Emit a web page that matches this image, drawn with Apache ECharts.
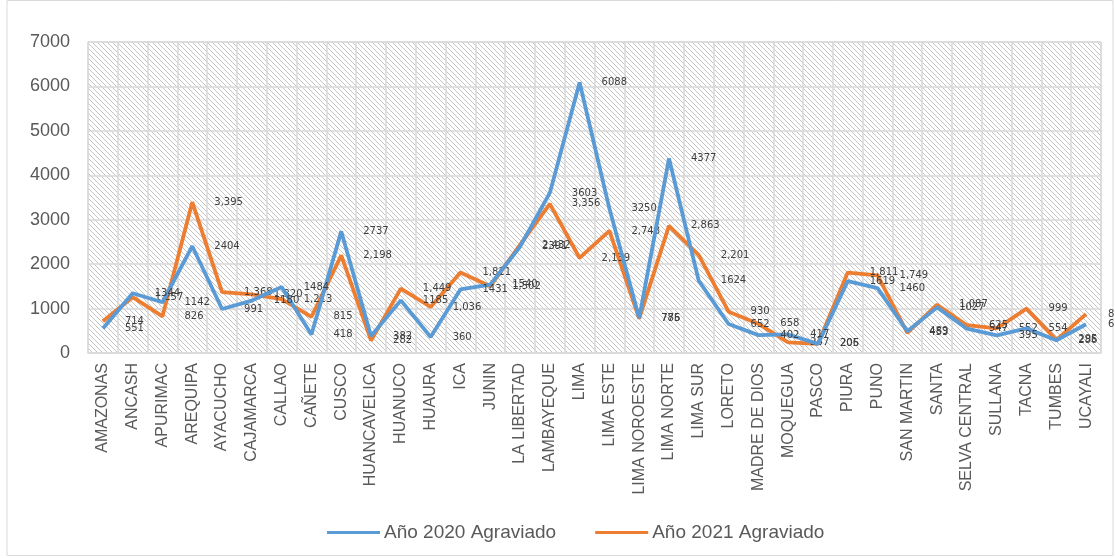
<!DOCTYPE html>
<html><head><meta charset="utf-8">
<script src="https://cdn.jsdelivr.net/npm/echarts@6/dist/echarts.min.js"></script>
<style>html,body{margin:0;padding:0;background:#fff}#c{width:1115px;height:558px}</style>
</head><body><div id="c"></div>
<script>
const categories = ['AMAZONAS','ANCASH','APURIMAC','AREQUIPA','AYACUCHO','CAJAMARCA','CALLAO','CAÑETE','CUSCO','HUANCAVELICA','HUANUCO','HUAURA','ICA','JUNIN','LA LIBERTAD','LAMBAYEQUE','LIMA','LIMA ESTE','LIMA NOROESTE','LIMA NORTE','LIMA SUR','LORETO','MADRE DE DIOS','MOQUEGUA','PASCO','PIURA','PUNO','SAN MARTIN','SANTA','SELVA CENTRAL','SULLANA','TACNA','TUMBES','UCAYALI'];
const values2020 = [551,1344,1142,2404,991,1180,1484,418,2737,382,1185,360,1431,1540,2391,3603,6088,3250,786,4377,1624,652,402,417,205,1619,1460,489,1027,547,395,554,286,648];
const values2021 = [714,1257,826,3395,1368,1320,1213,815,2198,282,1449,1036,1811,1502,2432,3356,2139,2748,775,2863,2201,930,658,237,206,1811,1749,453,1087,625,552,999,295,875];
const seriesNames = ['Año 2020 Agraviado','Año 2021 Agraviado'];
const yTicks = {min:0, max:7000, interval:1000};

const pc = document.createElement('canvas');
pc.width = 5; pc.height = 5;
const g = pc.getContext('2d');
g.fillStyle = '#ffffff'; g.fillRect(0,0,5,5);
g.strokeStyle = '#c4c4c4'; g.lineWidth = 1;
g.beginPath(); g.moveTo(-1,-1); g.lineTo(6,6); g.stroke();
g.beginPath(); g.moveTo(-1,4); g.lineTo(1,6); g.stroke();
g.beginPath(); g.moveTo(4,-1); g.lineTo(6,1); g.stroke();

const fmt2021 = v => v.toLocaleString('en-US');
const chart = echarts.init(document.getElementById('c'));
const font = 'Liberation Sans, Arial, sans-serif';
function mk(name, data, color, formatter){
  return {
    name, type:'line', data, symbol:'circle', symbolSize:0, showSymbol:true,
    lineStyle:{color, width:3.8}, itemStyle:{color},
    label:{show:true, position:'right', distance:22, fontFamily:'DejaVu Sans', fontSize:10, color:'#404040',
      formatter: p => formatter(p.value)},
    z: name===seriesNames[0]?3:2
  };
}
chart.setOption({
  animation:false,
  backgroundColor:'#fff',
  graphic:[{type:'rect', shape:{x:7,y:0.5,width:1106,height:555}, style:{fill:'none', stroke:'#d9d9d9', lineWidth:1}, z:-1}],
  grid:{left:88, right:14, top:42, bottom:205, show:true, borderColor:'#d9d9d9', borderWidth:1,
    backgroundColor:{image:pc, repeat:'repeat'}},
  legend:{left:322, top:518, itemWidth:53, itemHeight:3, itemGap:39, icon:'rect',
    textStyle:{fontFamily:font, fontSize:19, color:'#595959', padding:[0,0,0,-1]},
    data:seriesNames},
  xAxis:{type:'category', data:categories, boundaryGap:true,
    axisLine:{show:true, lineStyle:{color:'#d9d9d9'}}, axisTick:{show:false},
    splitLine:{show:true, interval:0, lineStyle:{color:'#d9d9d9', width:1.5}},
    axisLabel:{interval:0, rotate:90, margin:10, fontFamily:font, fontSize:16, color:'#595959'}},
  yAxis:{type:'value', min:yTicks.min, max:yTicks.max, interval:yTicks.interval,
    axisLine:{show:false}, axisTick:{show:false},
    splitLine:{lineStyle:{color:'#d9d9d9', width:1.5}},
    axisLabel:{margin:18, fontFamily:font, fontSize:18, color:'#595959', formatter: v => String(v)}},
  series:[mk(seriesNames[0], values2020, '#5B9BD5', v=>String(v)), mk(seriesNames[1], values2021, '#ED7D31', fmt2021)]
});
</script></body></html>
